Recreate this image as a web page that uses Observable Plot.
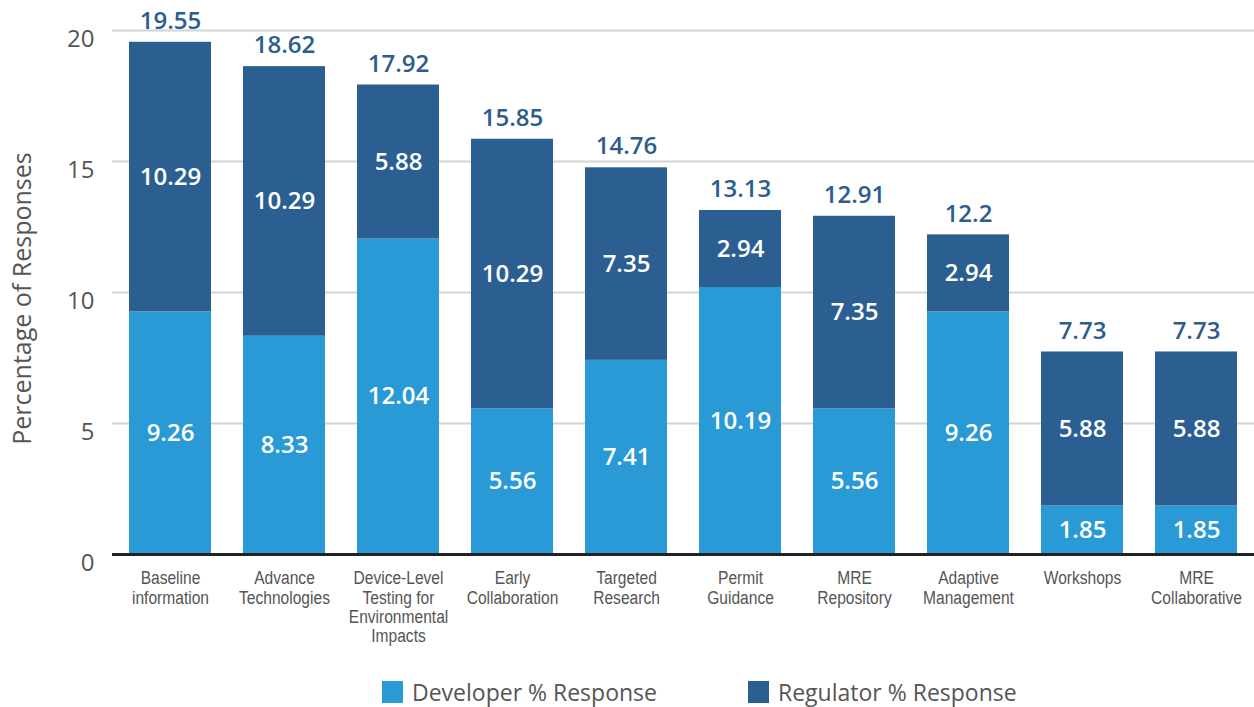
<!DOCTYPE html>
<html><head><meta charset="utf-8">
<script src="https://cdn.jsdelivr.net/npm/d3@7"></script>
<script src="https://cdn.jsdelivr.net/npm/@observablehq/plot@0.6"></script>
<style>
body{margin:0;background:#fff;font-family:"Open Sans",sans-serif;}
#chart{position:relative;width:1254px;height:707px;overflow:hidden;}
.leg{position:absolute;top:680px;display:flex;align-items:center;font-size:23px;line-height:24px;height:24px;color:#555;white-space:nowrap;}
.sw{width:21px;height:22px;margin-right:9px;}
</style></head><body><div id="chart"></div>
<script>
const categories = ["Baseline information", "Advance Technologies", "Device-Level Testing for Environmental Impacts", "Early Collaboration", "Targeted Research", "Permit Guidance", "MRE Repository", "Adaptive Management", "Workshops", "MRE Collaborative"];
const tickLabels = ["Baseline\ninformation", "Advance\nTechnologies", "Device-Level\nTesting for\nEnvironmental\nImpacts", "Early\nCollaboration", "Targeted\nResearch", "Permit\nGuidance", "MRE\nRepository", "Adaptive\nManagement", "Workshops", "MRE\nCollaborative"];
const developer = [9.26, 8.33, 12.04, 5.56, 7.41, 10.19, 5.56, 9.26, 1.85, 1.85];
const regulator = [10.29, 10.29, 5.88, 10.29, 7.35, 2.94, 7.35, 2.94, 5.88, 5.88];
const totals = [19.55, 18.62, 17.92, 15.85, 14.76, 13.13, 12.91, 12.2, 7.73, 7.73];
const seriesNames = ["Developer % Response", "Regulator % Response"];
const yTicks = [0, 5, 10, 15, 20];
const colors = ["#2a9ad6", "#2c5f91"];

const rows = [];
categories.forEach((c, i) => rows.push({cat: c, series: seriesNames[0], value: developer[i]}));
categories.forEach((c, i) => rows.push({cat: c, series: seriesNames[1], value: regulator[i]}));
const totalRows = categories.map((c, i) => ({cat: c, total: totals[i]}));
const labelMap = new Map(categories.map((c, i) => [c, tickLabels[i]]));

const chart = Plot.plot({
  width: 1254, height: 655,
  marginLeft: 112, marginRight: 0, marginTop: 30, marginBottom: 101,
  style: {fontFamily: "'Open Sans', sans-serif", background: "transparent"},
  x: {domain: categories, paddingInner: 0.28, paddingOuter: 0.14, axis: null},
  y: {domain: [0, 20], axis: null},
  color: {domain: seriesNames, range: colors},
  marks: [
    Plot.gridY(yTicks.filter(d => d > 0), {stroke: "#d4d4d4", strokeOpacity: 1, strokeWidth: 2}),
    Plot.barY(rows, {x: "cat", y: "value", fill: "series"}),
    Plot.ruleY([0], {stroke: "#222", strokeWidth: 3}),
    Plot.text(rows, Plot.stackY({x: "cat", y: "value", z: "series", text: d => d.value.toFixed(2), fill: "white", fontSize: 24, fontWeight: 600})),
    Plot.text(totalRows, {x: "cat", y: "total", text: d => String(d.total), dy: -21, fill: "#2b5d8e", fontSize: 24, fontWeight: 600}),
    Plot.axisY(yTicks, {tickSize: 0, tickPadding: 18, fontSize: 24, fill: "#555", dy: 9, label: null}),
    Plot.axisX({tickSize: 0, tickPadding: 16, fontSize: 19, lineHeight: 1.02, fill: "#555", fontFamily: "'Liberation Sans', Arial, sans-serif", tickFormat: d => labelMap.get(d), label: null, className: "xlab"}),
    Plot.text(["Percentage of Responses"], {frameAnchor: "left", textAnchor: "middle", text: d => d, rotate: -90, dx: -90, dy: 6, fontSize: 25, fill: "#555"})
  ]
});
// condense the x tick labels horizontally (narrow sans look)
d3.select(chart).selectAll(".xlab text").each(function() {
  const t = this.getAttribute("transform") || "";
  this.setAttribute("transform", t + " scale(0.82,1)");
});
const root = document.getElementById("chart");
root.appendChild(chart);
const legPos = [382, 748];
seriesNames.forEach((s, i) => {
  const item = document.createElement("div");
  item.className = "leg";
  item.style.left = legPos[i] + "px";
  const sw = document.createElement("div");
  sw.className = "sw";
  sw.style.background = colors[i];
  const t = document.createElement("span");
  t.textContent = s;
  item.appendChild(sw); item.appendChild(t);
  root.appendChild(item);
});
</script></body></html>
